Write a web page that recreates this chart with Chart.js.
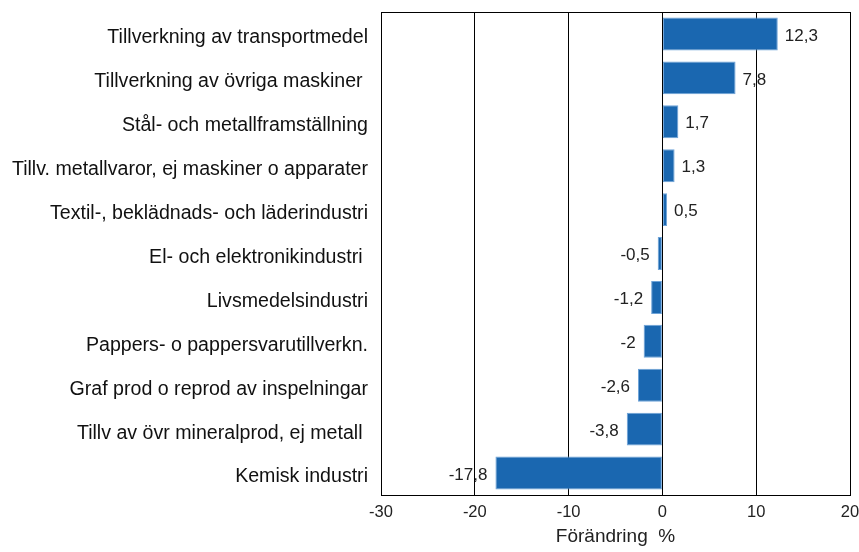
<!DOCTYPE html>
<html>
<head>
<meta charset="utf-8">
<script src="https://cdn.jsdelivr.net/npm/chart.js@4/dist/chart.umd.min.js"></script>
<style>
  html, body { margin: 0; padding: 0; background: #fff; }
  #wrap { width: 859px; height: 552px; }
</style>
</head>
<body>
<div id="wrap"><canvas id="myChart" width="859" height="552"></canvas></div>
<script>
const categories = [
    'Tillverkning av transportmedel',
    'Tillverkning av övriga maskiner ',
    'Stål- och metallframställning',
    'Tillv. metallvaror, ej maskiner o apparater',
    'Textil-, beklädnads- och läderindustri',
    'El- och elektronikindustri ',
    'Livsmedelsindustri',
    'Pappers- o pappersvarutillverkn.',
    'Graf prod o reprod av inspelningar',
    'Tillv av övr mineralprod, ej metall ',
    'Kemisk industri'
];
const changes = [12.3, 7.8, 1.7, 1.3, 0.5, -0.5, -1.2, -2, -2.6, -3.8, -17.8];
const xTicks = [-30, -20, -10, 0, 10, 20];

const FONT = 'Arial, "Liberation Sans", sans-serif';

// frame round the plot area
const frame = {
    id: 'frame',
    afterDraw(chart) {
        const { ctx, chartArea: a } = chart;
        ctx.save();
        ctx.strokeStyle = '#000';
        ctx.lineWidth = 1;
        ctx.strokeRect(Math.round(a.left) + 0.5, Math.round(a.top) + 0.5,
            Math.round(a.right - a.left), Math.round(a.bottom - a.top));
        ctx.restore();
    }
};

// value labels next to bar ends
const valueLabels = {
    id: 'valueLabels',
    afterDatasetsDraw(chart) {
        const { ctx } = chart;
        const meta = chart.getDatasetMeta(0);
        ctx.save();
        ctx.font = '17px ' + FONT;
        ctx.fillStyle = '#222';
        ctx.textBaseline = 'middle';
        meta.data.forEach((bar, i) => {
            const v = changes[i];
            const txt = String(v).replace('.', ',');
            if (v >= 0) {
                ctx.textAlign = 'left';
                ctx.fillText(txt, bar.x + 7, bar.y + 2);
            } else {
                ctx.textAlign = 'right';
                ctx.fillText(txt, bar.x - 8, bar.y + 2);
            }
        });
        ctx.restore();
    }
};

new Chart(document.getElementById('myChart'), {
    type: 'bar',
    data: {
        labels: categories,
        datasets: [{
            data: changes,
            backgroundColor: '#1a67b0',
            borderColor: '#6ea3d8',
            borderWidth: 1,
            borderSkipped: false,
            barPercentage: 0.75,
            categoryPercentage: 1
        }]
    },
    options: {
        indexAxis: 'y',
        responsive: false,
        animation: false,
        layout: { padding: { top: 12, right: 9, left: 0, bottom: 0 } },
        plugins: {
            legend: { display: false },
            tooltip: { enabled: false }
        },
        scales: {
            x: {
                min: -30,
                max: 20,
                afterBuildTicks: s => { s.ticks = xTicks.map(v => ({ value: v })); },
                afterFit: s => {
                    s.height = 57;
                    s.paddingLeft = 0;
                    s.paddingRight = 0;
                },
                grid: { color: '#000', lineWidth: 1, drawTicks: false },
                border: { display: false },
                ticks: {
                    color: '#222',
                    font: { size: 16.5, family: FONT },
                    padding: 8
                },
                title: {
                    display: true,
                    text: 'Förändring  %',
                    color: '#222',
                    font: { size: 19, family: FONT },
                    padding: { top: 5 }
                }
            },
            y: {
                afterFit: s => {
                    s.width = 381;
                    s.paddingTop = 0;
                    s.paddingBottom = 0;
                },
                grid: { display: false, drawTicks: false },
                border: { display: false },
                ticks: {
                    color: '#111',
                    font: { size: 19.6, family: FONT },
                    padding: 13,
                    labelOffset: 4
                }
            }
        }
    },
    plugins: [frame, valueLabels]
});
</script>
</body>
</html>
